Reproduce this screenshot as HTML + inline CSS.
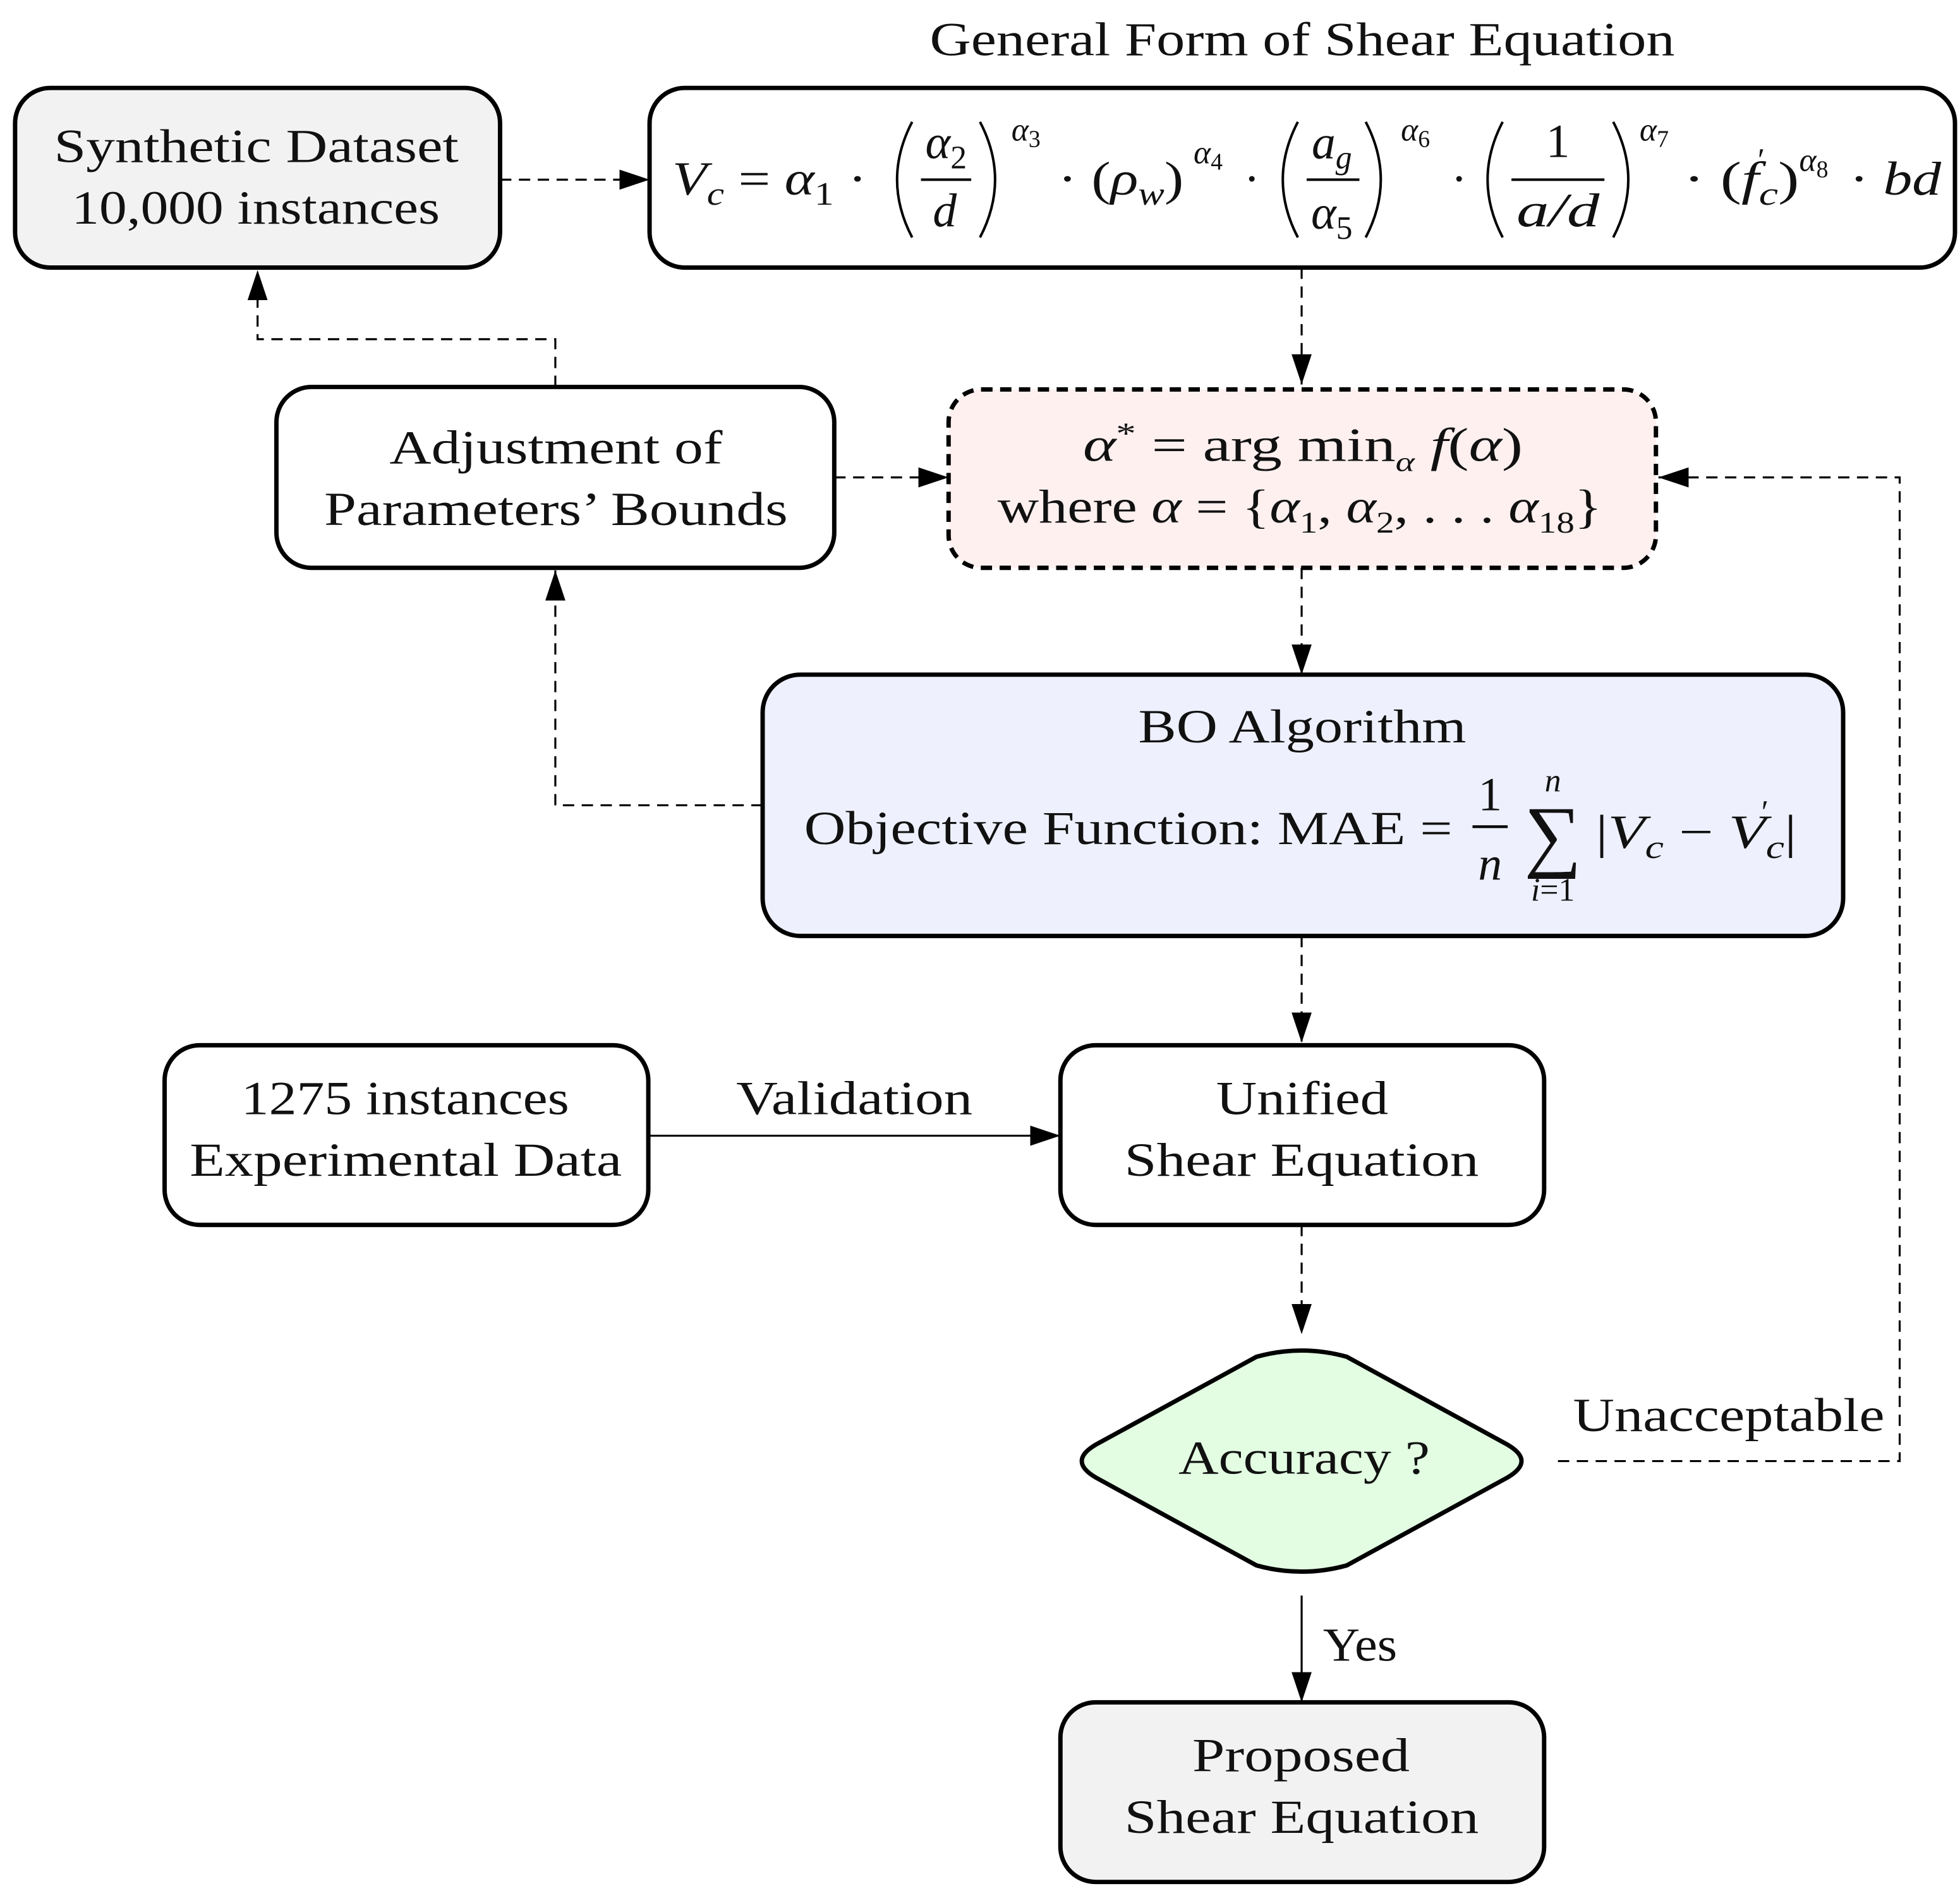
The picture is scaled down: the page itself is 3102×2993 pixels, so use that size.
<!DOCTYPE html>
<html><head><meta charset="utf-8"><style>
html,body{margin:0;padding:0;background:#fff}
svg{display:block}
text{font-family:"Liberation Serif",serif;fill:#111}
.i{font-style:italic}
</style></head><body>
<svg width="3102" height="2993" viewBox="0 0 1560 1505.2" xmlns="http://www.w3.org/2000/svg">
<defs>
<marker id="ah" viewBox="0 0 24 16" refX="24" refY="8" markerWidth="24" markerHeight="16" markerUnits="userSpaceOnUse" orient="auto">
<path d="M0,0 L24,8 L0,16 Z" fill="#000"/></marker>
</defs>
<g font-size="38">
<text x="740" y="44" textLength="593" lengthAdjust="spacingAndGlyphs">General Form of Shear Equation</text>

<g stroke="#000" stroke-width="3.5">
<rect x="12" y="70" width="386" height="143" rx="28" fill="#f2f2f2"/>
<rect x="517" y="70" width="1039" height="143" rx="28" fill="#fff"/>
<rect x="755" y="310" width="563" height="142" rx="26" fill="#fdf0ef" stroke-dasharray="9,6"/>
<rect x="220" y="308" width="444" height="144" rx="28" fill="#fff"/>
<rect x="607" y="537" width="860" height="208" rx="30" fill="#eef0fd"/>
<rect x="131" y="832" width="385" height="143" rx="28" fill="#fff"/>
<rect x="844" y="832" width="385" height="143" rx="28" fill="#fff"/>
<rect x="844" y="1355" width="385" height="143" rx="28" fill="#f2f2f2"/>
<path d="M1000,1080 Q1036,1070 1072,1080 L1200,1150 Q1222,1163 1200,1176 L1072,1246 Q1036,1256 1000,1246 L872,1176 Q850,1163 872,1150 Z" fill="#e2fde2"/>
</g>

<g stroke="#000" stroke-width="1.6" fill="none" stroke-dasharray="9,6">
<path d="M398,143 L517,143" marker-end="url(#ah)"/>
<path d="M1036,213 L1036,306" marker-end="url(#ah)"/>
<path d="M664,380 L755,380" marker-end="url(#ah)"/>
<path d="M442,308 L442,270 L205,270 L205,215" marker-end="url(#ah)"/>
<path d="M1036,452 L1036,537" marker-end="url(#ah)"/>
<path d="M607,641 L442,641 L442,454" marker-end="url(#ah)"/>
<path d="M1036,745 L1036,830" marker-end="url(#ah)"/>
<path d="M1036,975 L1036,1062" marker-end="url(#ah)"/>
<path d="M1240,1163 L1512,1163 L1512,380 L1320,380" marker-end="url(#ah)"/>
</g>
<g stroke="#000" stroke-width="1.6" fill="none">
<path d="M516,904 L844,904" marker-end="url(#ah)"/>
<path d="M1036,1270 L1036,1355" marker-end="url(#ah)"/>
</g>

<text x="43" y="129" textLength="322" lengthAdjust="spacingAndGlyphs">Synthetic Dataset</text>
<text x="57" y="178" textLength="293" lengthAdjust="spacingAndGlyphs">10,000 instances</text>
<text x="310" y="369" textLength="265" lengthAdjust="spacingAndGlyphs">Adjustment of</text>
<text x="258" y="418" textLength="369" lengthAdjust="spacingAndGlyphs">Parameters’ Bounds</text>
<text x="192" y="887" textLength="261" lengthAdjust="spacingAndGlyphs">1275 instances</text>
<text x="151" y="936" textLength="344" lengthAdjust="spacingAndGlyphs">Experimental Data</text>
<text x="586" y="887" textLength="188" lengthAdjust="spacingAndGlyphs">Validation</text>
<text x="968" y="887" textLength="137" lengthAdjust="spacingAndGlyphs">Unified</text>
<text x="895" y="936" textLength="282" lengthAdjust="spacingAndGlyphs">Shear Equation</text>
<text x="938" y="1173" textLength="200" lengthAdjust="spacingAndGlyphs">Accuracy ?</text>
<text x="1252" y="1139" textLength="248" lengthAdjust="spacingAndGlyphs">Unacceptable</text>
<text x="1053" y="1322" textLength="59" lengthAdjust="spacingAndGlyphs">Yes</text>
<text x="949" y="1410" textLength="173" lengthAdjust="spacingAndGlyphs">Proposed</text>
<text x="895" y="1459" textLength="282" lengthAdjust="spacingAndGlyphs">Shear Equation</text>

<text x="862" y="367" textLength="350" lengthAdjust="spacingAndGlyphs"><tspan class="i">α</tspan><tspan font-size="24" dy="-14">*</tspan><tspan dy="14"> = arg min</tspan><tspan class="i" font-size="22" dy="8">α</tspan><tspan dy="-8" class="i"> f</tspan><tspan>(</tspan><tspan class="i">α</tspan><tspan>)</tspan></text>
<text x="794" y="416" textLength="481" lengthAdjust="spacingAndGlyphs">where <tspan class="i">α</tspan> = {<tspan class="i">α</tspan><tspan font-size="24" dy="8">1</tspan><tspan dy="-8">, </tspan><tspan class="i">α</tspan><tspan font-size="24" dy="8">2</tspan><tspan dy="-8">, . . . </tspan><tspan class="i">α</tspan><tspan font-size="24" dy="8">18</tspan><tspan dy="-8">}</tspan></text>

<text x="906" y="591" textLength="261" lengthAdjust="spacingAndGlyphs">BO Algorithm</text>
<text x="640" y="672" textLength="516" lengthAdjust="spacingAndGlyphs">Objective Function: MAE =</text>
<text x="1186" y="645" text-anchor="middle">1</text>
<line x1="1172" y1="658" x2="1200" y2="658" stroke="#000" stroke-width="2.2"/>
<text x="1186" y="700" text-anchor="middle" class="i">n</text>
<text x="1236" y="630" text-anchor="middle" class="i" font-size="26">n</text>
<text x="1236" y="686" text-anchor="middle" font-size="64">∑</text>
<text x="1236" y="717" text-anchor="middle" font-size="26"><tspan class="i">i</tspan>=1</text>
<text x="1270" y="675" textLength="160" lengthAdjust="spacingAndGlyphs">|<tspan class="i">V</tspan><tspan class="i" font-size="26" dy="8">c</tspan><tspan dy="-8"> − </tspan><tspan class="i">V</tspan><tspan class="i" font-size="26" dy="8">c</tspan><tspan dy="-8">|</tspan></text>
<text x="1402" y="655" font-size="26">′</text>

<g fill="none" stroke="#000" stroke-width="2">
<path d="M726,97 Q702,143 726,189"/><path d="M780,97 Q804,143 780,189"/>
<path d="M1033,97 Q1009,143 1033,189"/><path d="M1087,97 Q1111,143 1087,189"/>
<path d="M1196,97 Q1172,143 1196,189"/><path d="M1284,97 Q1308,143 1284,189"/>
<line x1="733" y1="143" x2="773" y2="143"/>
<line x1="1040" y1="143" x2="1082" y2="143"/>
<line x1="1203" y1="143" x2="1277" y2="143"/>
</g>
<text x="535" y="155" textLength="155" lengthAdjust="spacingAndGlyphs"><tspan class="i">V</tspan><tspan class="i" font-size="26" dy="8">c</tspan><tspan dy="-8"> = </tspan><tspan class="i">α</tspan><tspan font-size="26" dy="8">1</tspan><tspan dy="-8"> ·</tspan></text>
<text x="753" y="126" text-anchor="middle"><tspan class="i">α</tspan><tspan font-size="26" dy="8">2</tspan></text>
<text x="752" y="180" text-anchor="middle" class="i">d</text>
<text x="805" y="112" font-size="26"><tspan class="i">α</tspan><tspan font-size="19" dy="5">3</tspan></text>
<text x="842" y="155" textLength="100" lengthAdjust="spacingAndGlyphs">· (<tspan class="i">ρ</tspan><tspan class="i" font-size="26" dy="8">w</tspan><tspan dy="-8">)</tspan></text>
<text x="950" y="130" font-size="26"><tspan class="i">α</tspan><tspan font-size="19" dy="5">4</tspan></text>
<text x="990" y="155">·</text>
<text x="1060" y="126" text-anchor="middle"><tspan class="i">a</tspan><tspan class="i" font-size="26" dy="8">g</tspan></text>
<text x="1060" y="182" text-anchor="middle"><tspan class="i">α</tspan><tspan font-size="26" dy="8">5</tspan></text>
<text x="1115" y="112" font-size="26"><tspan class="i">α</tspan><tspan font-size="19" dy="5">6</tspan></text>
<text x="1155" y="155">·</text>
<text x="1240" y="125" text-anchor="middle">1</text>
<text x="1240" y="180" text-anchor="middle" class="i" textLength="66" lengthAdjust="spacingAndGlyphs">a/d</text>
<text x="1305" y="112" font-size="26"><tspan class="i">α</tspan><tspan font-size="19" dy="5">7</tspan></text>
<text x="1340" y="155" textLength="92" lengthAdjust="spacingAndGlyphs">· (<tspan class="i">f</tspan><tspan class="i" font-size="26" dy="8">c</tspan><tspan dy="-8">)</tspan></text>
<text x="1399" y="136" font-size="26">′</text>
<text x="1432" y="136" font-size="26"><tspan class="i">α</tspan><tspan font-size="19" dy="5">8</tspan></text>
<text x="1472" y="155" textLength="73" lengthAdjust="spacingAndGlyphs">· <tspan class="i">bd</tspan></text>
</g>
</svg>
</body></html>
